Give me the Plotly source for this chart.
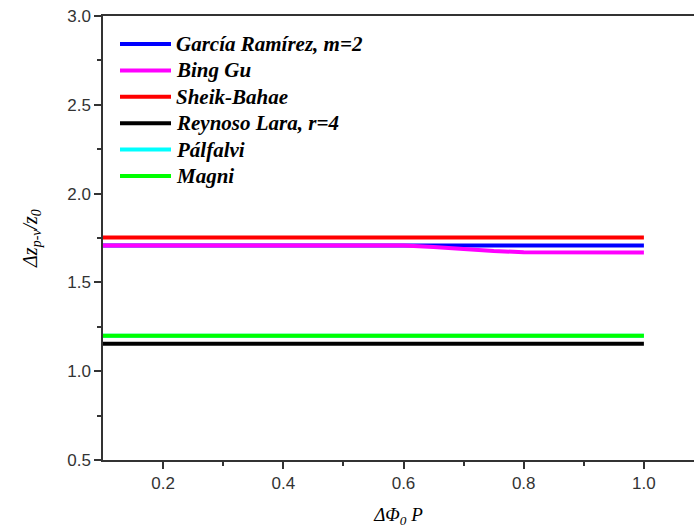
import plotly.graph_objects as go

# ---- data ----
x_vals = [0.1, 0.2, 0.3, 0.4, 0.5, 0.6, 0.65, 0.7, 0.75, 0.8, 0.9, 1.0]
garcia = [1.708] * 12
bing_gu = [1.708, 1.708, 1.708, 1.708, 1.708, 1.708, 1.700, 1.688, 1.677, 1.670, 1.669, 1.669]
sheik = [1.753] * 12
reynoso = [1.154] * 12
palfalvi = [1.200] * 12
magni = [1.200] * 12

names = ["García Ramírez, m=2", "Bing Gu", "Sheik-Bahae", "Reynoso Lara, r=4", "Pálfalvi", "Magni"]
series = [garcia, bing_gu, sheik, reynoso, palfalvi, magni]
colors = ["#0000ff", "#ff00ff", "#ff0000", "#000000", "#00ffff", "#00ff00"]

x_ticks = [0.2, 0.4, 0.6, 0.8, 1.0]
y_ticks = [0.5, 1.0, 1.5, 2.0, 2.5, 3.0]

fig = go.Figure()
for n, s, c in zip(names, series, colors):
    fig.add_trace(go.Scatter(x=x_vals, y=s, mode="lines", name=n,
                             line=dict(color=c, width=4), showlegend=False))

# manual legend (paper coordinates)
W, H = 694, 531
ml, mr, mt, mb = 103, 0, 16, 71
pw, ph = W - ml - mr, H - mt - mb
def px(xp):
    return (xp - ml) / pw
def py(yp):
    return (H - mb - yp) / ph

row0, step = 44, 26.4
for i, (n, c) in enumerate(zip(names, colors)):
    yy = row0 + i * step
    fig.add_shape(type="line", xref="paper", yref="paper",
                  x0=px(120), x1=px(171), y0=py(yy), y1=py(yy),
                  line=dict(color=c, width=4))
    fig.add_annotation(xref="paper", yref="paper", x=px(174), y=py(yy),
                       text="<b><i>" + n + "</i></b>", showarrow=False,
                       xanchor="left", yanchor="middle",
                       font=dict(family="Liberation Serif", size=21, color="#000"))

tickfont = dict(family="Liberation Sans", size=17, color="#333")
fig.update_layout(
    width=W, height=H,
    margin=dict(l=ml, r=mr, t=mt, b=mb, autoexpand=False),
    plot_bgcolor="white", paper_bgcolor="white",
    xaxis=dict(range=[0.1, 0.1 + pw / 601.0], tickvals=x_ticks,
               ticktext=["%.1f" % v for v in x_ticks], automargin=False,
               ticks="outside", ticklen=7, tickwidth=1.5, tickcolor="#333",
               showline=True, linecolor="#333", linewidth=1.5, mirror=True,
               showgrid=False, zeroline=False, tickfont=tickfont,
               minor=dict(tickvals=[0.3, 0.5, 0.7, 0.9], ticks="outside", ticklen=4,
                          tickwidth=1.5, tickcolor="#333", showgrid=False),
               title=dict(text="<i>ΔΦ<sub>0</sub> P</i>", standoff=16,
                          font=dict(family="Liberation Serif", size=19, color="#000"))),
    yaxis=dict(range=[0.5, 3.0], tickvals=y_ticks,
               ticktext=["%.1f" % v for v in y_ticks], automargin=False,
               ticks="outside", ticklen=7, tickwidth=1.5, tickcolor="#333",
               showline=True, linecolor="#333", linewidth=1.5,
               showgrid=False, zeroline=False, tickfont=tickfont,
               minor=dict(tickvals=[0.75, 1.25, 1.75, 2.25, 2.75], ticks="outside", ticklen=4,
                          tickwidth=1.5, tickcolor="#333", showgrid=False),
               title=dict(text="<i>Δz<sub>p-v</sub>/z<sub>0</sub></i>", standoff=24,
                          font=dict(family="Liberation Serif", size=20, color="#000"))),
)

fig.write_html("out.html", config={"displayModeBar": False},
               post_script="document.body.style.margin='0';document.body.style.overflow='hidden';")
